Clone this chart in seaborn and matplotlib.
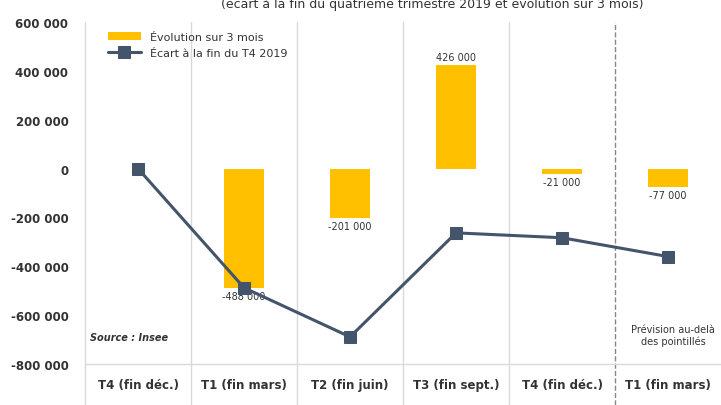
import numpy as np
import matplotlib.pyplot as plt
import matplotlib.transforms as mtransforms
import seaborn as sns

sns.set_style("white")

# --- données ---
trimestres = ["T4 (fin déc.)", "T1 (fin mars)", "T2 (fin juin)", "T3 (fin sept.)", "T4 (fin déc.)", "T1 (fin mars)"]
evolution_3mois = [np.nan, -488000, -201000, 426000, -21000, -77000]
ecart_t4_2019 = [0, -488000, -689000, -263000, -283000, -360000]
labels_barres = ["", "-488 000", "-201 000", "426 000", "-21 000", "-77 000"]
yticks = [600000, 400000, 200000, 0, -200000, -400000, -600000, -800000]

pos = np.arange(len(trimestres))

fig = plt.figure(figsize=(7.21, 4.06), dpi=100)
ax = fig.add_axes([0.118, 0.101, 0.882, 0.842])

sns.barplot(x=pos, y=evolution_3mois, native_scale=True, color="#FFC000",
            width=0.38, ax=ax, label="Évolution sur 3 mois", saturation=1, linewidth=0)
sns.lineplot(x=pos, y=ecart_t4_2019, color="#44546A", lw=2.2, marker="s",
             markersize=8, markeredgecolor="#44546A", ax=ax, label="Écart à la fin du T4 2019",
             zorder=5)

for x, v, t in zip(pos, evolution_3mois, labels_barres):
    if not t:
        continue
    off = 12000 if v > 0 else -12000
    ax.text(x, v + off, t, ha="center", va="bottom" if v > 0 else "top", fontsize=7, color="#333333")

ax.set_xlim(-0.5, len(pos) - 0.5)
ax.set_ylim(-800000, 600000)
ax.set_yticks(yticks)
ax.set_yticklabels([f"{v:,}".replace(",", " ") for v in yticks], fontsize=8.5, fontweight="bold", color="#333333")
ax.tick_params(axis="y", length=0, pad=12)
ax.set_xticks(pos)
ax.set_xticklabels(trimestres, fontsize=8.5, fontweight="bold", color="#333333")
ax.tick_params(axis="x", length=0, pad=10)
for s in ax.spines.values():
    s.set_visible(False)

# séparateurs verticaux (prolongés sous l'axe)
trans = mtransforms.blended_transform_factory(ax.transData, ax.transAxes)
for x in np.arange(0.5, len(pos) - 1, 1.0):
    dashed = x == len(pos) - 1.5
    ax.plot([x, x], [-0.12, 1.0], transform=trans, clip_on=False,
            color="#888888" if dashed else "#d9d9d9", lw=1, ls="--" if dashed else "-")
ax.plot([-0.5, -0.5], [-0.12, 1.0], transform=trans, clip_on=False, color="#d9d9d9", lw=1)
ax.plot([-0.5, len(pos) - 0.5], [0, 0], transform=trans, clip_on=False, color="#d9d9d9", lw=1)

handles, labels = ax.get_legend_handles_labels()
order = [labels.index("Évolution sur 3 mois"), labels.index("Écart à la fin du T4 2019")]
ax.legend([handles[i] for i in order], [labels[i] for i in order],
          loc="upper left", frameon=False, fontsize=8, bbox_to_anchor=(0.02, 1.0),
          labelcolor="#333333", handlelength=3)

ax.text(-0.45, -700000, "Source : Insee", fontsize=7, fontstyle="italic", fontweight="bold", color="#333333")
ax.text(5.05, -720000, "Prévision au-delà\ndes pointillés", fontsize=7, ha="center", color="#333333")

fig.text(0.6, 0.99, "(écart à la fin du quatrième trimestre 2019 et évolution sur 3 mois)",
         ha="center", va="center", fontsize=9, color="#333333")

fig.savefig("out.png", dpi=100)
